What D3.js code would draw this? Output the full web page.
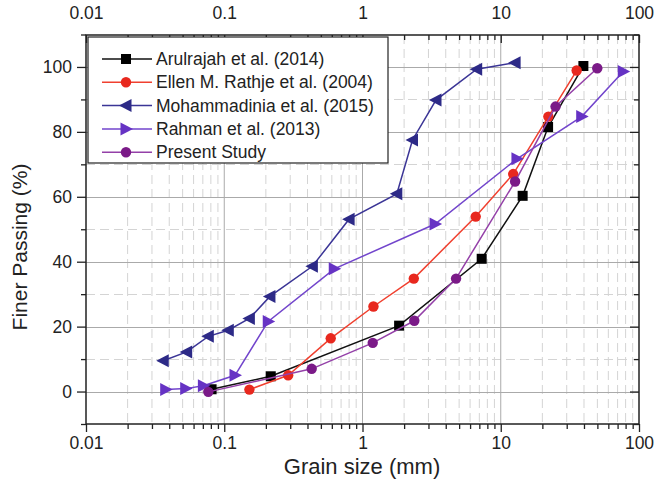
<!DOCTYPE html>
<html>
<head>
<meta charset="utf-8">
<script src="https://cdn.jsdelivr.net/npm/d3@7"></script>
<style>
  html, body { margin: 0; padding: 0; background: #fff; }
  svg text { font-family: "Liberation Sans", Arial, sans-serif; }
</style>
</head>
<body>
<svg id="chart" width="654" height="482"></svg>
<script>
// Grain size distribution curves (grain size in mm, percent finer)
const seriesNames = [
  "Arulrajah et al. (2014)",
  "Ellen M. Rathje et al. (2004)",
  "Mohammadinia et al. (2015)",
  "Rahman et al. (2013)",
  "Present Study"
];

const arulSize = [0.081, 0.217, 1.84, 7.28, 14.4, 22.0, 39.6];
const arulPass = [0.7, 4.7, 20.3, 40.9, 60.3, 81.5, 100.3];

const rathSize = [0.152, 0.29, 0.589, 1.20, 2.35, 6.59, 12.3, 22.1, 35.4];
const rathPass = [0.6, 5.0, 16.4, 26.2, 34.8, 53.9, 67.0, 84.7, 98.9];

const mohaSize = [0.0362, 0.0535, 0.0767, 0.107, 0.152, 0.214, 0.434, 0.80, 1.77, 2.3, 3.40, 6.70, 12.7];
const mohaPass = [9.5, 12.2, 17.0, 18.9, 22.5, 29.3, 38.6, 53.1, 60.9, 77.5, 89.8, 99.3, 101.3];

const rahmSize = [0.0377, 0.0526, 0.0706, 0.1196, 0.208, 0.625, 3.35, 13.1, 38.5, 76.9];
const rahmPass = [0.6, 0.9, 1.8, 5.0, 21.6, 37.8, 51.6, 71.7, 84.7, 98.6];

const presSize = [0.0767, 0.429, 1.186, 2.37, 4.75, 12.7, 24.9, 49.9];
const presPass = [-0.1, 7.0, 15.0, 21.8, 34.8, 64.7, 87.8, 99.6];

const xTickValues = [0.01, 0.1, 1, 10, 100];
const xTickLabels = ["0.01", "0.1", "1", "10", "100"];
const yTickValues = [0, 20, 40, 60, 80, 100];
const yMinorValues = [-10, 10, 30, 50, 70, 90, 110];

(function draw() {
  const svg = d3.select("#chart");
  const pL = 86, pR = 639, pT = 35, pB = 424;

  const x = d3.scaleLog().domain([0.01, 100]).range([pL, pR]);
  const y = d3.scaleLinear().domain([-10, 110]).range([pB, pT - 0.5]);

  // minor log positions 2..9 in each decade
  const xMinor = [];
  [0.01, 0.1, 1, 10].forEach(d => { for (let k = 2; k <= 9; k++) xMinor.push(d * k); });

  const grid = svg.append("g");
  // dashed minor grid
  grid.selectAll("line.vmin").data(xMinor).join("line")
    .attr("x1", d => x(d)).attr("x2", d => x(d))
    .attr("y1", pT).attr("y2", pB)
    .attr("stroke", "#d4d4d4").attr("stroke-width", 1).attr("stroke-dasharray", "9,5");
  grid.selectAll("line.hmin").data([10, 30, 50, 70, 90]).join("line")
    .attr("x1", pL).attr("x2", pR)
    .attr("y1", d => Math.round(y(d)) + 0.5).attr("y2", d => Math.round(y(d)) + 0.5)
    .attr("stroke", "#d4d4d4").attr("stroke-width", 1).attr("stroke-dasharray", "9,5");
  // solid major grid
  grid.selectAll("line.vmaj").data([0.1, 1, 10]).join("line")
    .attr("x1", d => x(d)).attr("x2", d => x(d))
    .attr("y1", pT).attr("y2", pB)
    .attr("stroke", "#aaaaaa").attr("stroke-width", 1);
  grid.selectAll("line.hmaj").data(yTickValues).join("line")
    .attr("x1", pL).attr("x2", pR)
    .attr("y1", d => Math.round(y(d)) + 0.5).attr("y2", d => Math.round(y(d)) + 0.5)
    .attr("stroke", "#aaaaaa").attr("stroke-width", 1);

  // axes
  const fmt = d => xTickLabels[xTickValues.indexOf(d)];
  const axisStyle = g => {
    g.select(".domain").remove();
    g.selectAll(".tick line").attr("stroke", "#222").attr("stroke-width", 1.3);
    g.selectAll(".tick text").attr("fill", "#222").attr("font-size", "17.5px")
      .attr("font-family", "'Liberation Sans', Arial, sans-serif");
  };

  svg.append("g").attr("transform", `translate(0,${pB})`)
    .call(d3.axisBottom(x).tickValues(xTickValues).tickFormat(fmt).tickSize(8).tickPadding(5))
    .call(axisStyle);
  svg.append("g").attr("transform", `translate(0,${pB})`)
    .call(d3.axisBottom(x).tickValues(xMinor).tickFormat("").tickSize(5))
    .call(axisStyle);

  svg.append("g").attr("transform", `translate(0,${pT})`)
    .call(d3.axisTop(x).tickValues(xTickValues).tickFormat(fmt).tickSize(-8).tickPadding(16))
    .call(axisStyle);
  svg.append("g").attr("transform", `translate(0,${pT})`)
    .call(d3.axisTop(x).tickValues(xMinor).tickFormat("").tickSize(-5))
    .call(axisStyle);

  svg.append("g").attr("transform", `translate(${pL},0)`)
    .call(d3.axisLeft(y).tickValues(yTickValues).tickSize(9).tickPadding(5))
    .call(axisStyle);
  svg.append("g").attr("transform", `translate(${pL},0)`)
    .call(d3.axisLeft(y).tickValues(yMinorValues).tickFormat("").tickSize(5))
    .call(axisStyle);

  svg.append("g").attr("transform", `translate(${pR},0)`)
    .call(d3.axisRight(y).tickValues(yTickValues).tickFormat("").tickSize(-9))
    .call(axisStyle);
  svg.append("g").attr("transform", `translate(${pR},0)`)
    .call(d3.axisRight(y).tickValues(yMinorValues).tickFormat("").tickSize(-5))
    .call(axisStyle);

  // frame
  svg.append("rect").attr("x", pL).attr("y", pT)
    .attr("width", pR - pL).attr("height", pB - pT)
    .attr("fill", "none").attr("stroke", "#222").attr("stroke-width", 1.5);

  // axis titles
  svg.append("text").attr("x", 362).attr("y", 474).attr("text-anchor", "middle")
    .attr("font-size", "22px").attr("fill", "#222").text("Grain size (mm)");
  svg.append("text").attr("transform", "translate(27,247) rotate(-90)")
    .attr("text-anchor", "middle").attr("font-size", "21px").attr("fill", "#222")
    .text("Finer Passing (%)");

  // marker shapes
  const markerPath = {
    square: "M-5,-5H5V5H-5Z",
    circle: d3.symbol(d3.symbolCircle, 85)(),
    tleft: "M-7,0L5.5,-6.5L5.5,6.5Z",
    tright: "M7,0L-5.5,-6.5L-5.5,6.5Z"
  };

  const series = [
    { name: seriesNames[0], xs: arulSize, ys: arulPass, line: "#111", fill: "#000", shape: "square" },
    { name: seriesNames[1], xs: rathSize, ys: rathPass, line: "#f0402f", fill: "#e8281e", shape: "circle" },
    { name: seriesNames[2], xs: mohaSize, ys: mohaPass, line: "#3b3596", fill: "#2d2a87", shape: "tleft" },
    { name: seriesNames[3], xs: rahmSize, ys: rahmPass, line: "#7245cc", fill: "#6633c4", shape: "tright" },
    { name: seriesNames[4], xs: presSize, ys: presPass, line: "#9440a8", fill: "#7b1a88", shape: "circle" }
  ];

  const lineGen = d3.line().x(d => x(d[0])).y(d => y(d[1]));
  const plot = svg.append("g");
  series.forEach(s => {
    const pts = s.xs.map((v, i) => [v, s.ys[i]]);
    const g = plot.append("g");
    g.append("path").datum(pts).attr("d", lineGen)
      .attr("fill", "none").attr("stroke", s.line).attr("stroke-width", 1.5);
    g.selectAll("path.m").data(pts).join("path").attr("class", "m")
      .attr("transform", d => `translate(${x(d[0])},${y(d[1])})`)
      .attr("d", markerPath[s.shape]).attr("fill", s.fill);
  });

  // legend
  const lg = svg.append("g");
  lg.append("rect").attr("x", 88).attr("y", 37).attr("width", 300).attr("height", 126)
    .attr("fill", "#fff").attr("stroke", "#222").attr("stroke-width", 1.2);
  series.forEach((s, i) => {
    const cy = 59 + i * 23.3;
    lg.append("line").attr("x1", 102).attr("x2", 152).attr("y1", cy).attr("y2", cy)
      .attr("stroke", s.line).attr("stroke-width", 1.5);
    lg.append("path").attr("transform", `translate(126,${cy})`)
      .attr("d", markerPath[s.shape]).attr("fill", s.fill);
    lg.append("text").attr("x", 156).attr("y", cy + 6).attr("font-size", "17.5px")
      .attr("fill", "#222").text(s.name);
  });
})();
</script>
</body>
</html>
